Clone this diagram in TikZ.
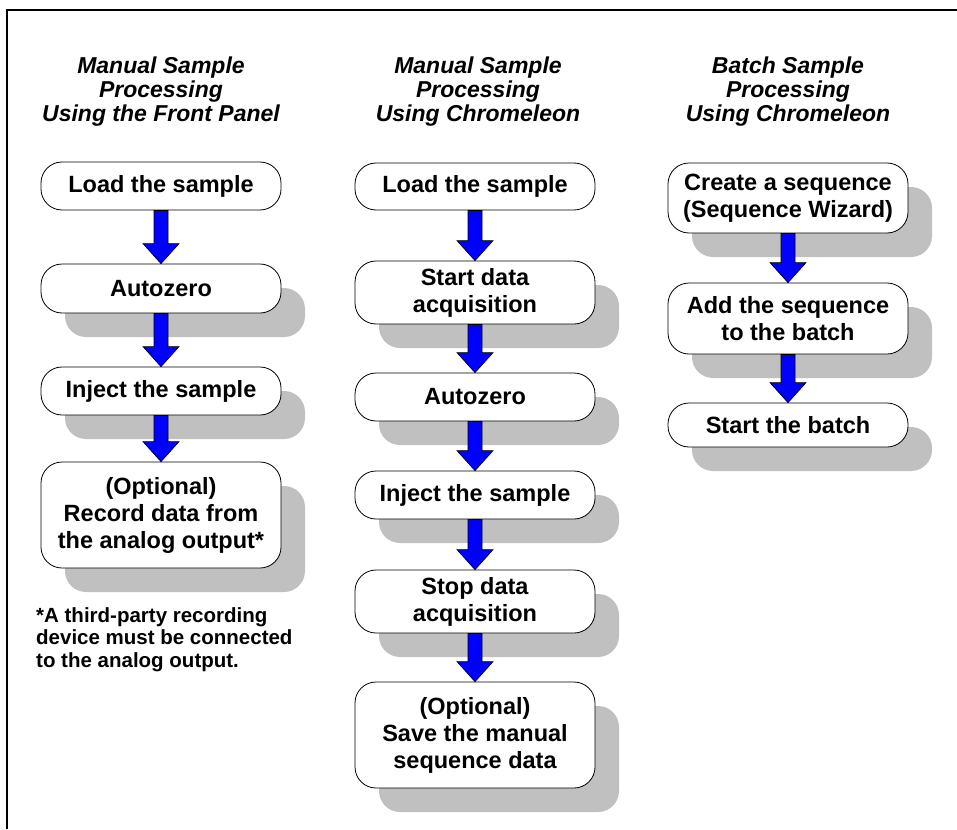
\documentclass[tikz,border=0pt]{standalone}
\usepackage{fontspec}
\setmainfont{Liberation Sans}
\usetikzlibrary{shadows,calc}
\definecolor{shadowgray}{RGB}{192,192,192}
\definecolor{arrowblue}{RGB}{0,0,255}
\tikzset{
 stepbox/.style={draw=black, line width=0.8pt, fill=white, rounded corners=21pt, minimum width=240pt, inner sep=0pt, align=center, font=\fontsize{23.5}{27}\selectfont\bfseries},
 shadowed/.style={general shadow={shadow xshift=24pt, shadow yshift=-24pt, fill=shadowgray, draw=none}},
 coltitle/.style={align=center, inner sep=0pt, anchor=north, font=\fontsize{23}{24}\selectfont\bfseries\itshape},
 footnote/.style={align=left, inner sep=0pt, anchor=north west, font=\fontsize{20.5}{22.5}\selectfont\bfseries},
 flowarrow/.style={fill=arrowblue, draw=black, line width=0.7pt, line join=miter},
 frameline/.style={line width=2.5pt},
}
\newcommand{\flowarr}[2]{\draw[flowarrow] ($(#1.south)+(-7,0)$) -- ($(#2.north)+(-7,-20)$) -- ($(#2.north)+(-18,-20)$) -- (#2.north) -- ($(#2.north)+(18,-20)$) -- ($(#2.north)+(7,-20)$) -- ($(#1.south)+(7,0)$) -- cycle;}
\begin{document}
\begin{tikzpicture}[x=1pt,y=-1pt]
\useasboundingbox (0,0) rectangle (957,829);
\draw[frameline] (957,10) -- (7,10) -- (7,829);

% titles
\node[coltitle] (t1) at (161,57) {Manual Sample\\Processing\\Using the Front Panel};
\node[coltitle] (t2) at (478,57) {Manual Sample\\Processing\\Using Chromeleon};
\node[coltitle] (t3) at (788,57) {Batch Sample\\Processing\\Using Chromeleon};

% column 1
\node[stepbox, minimum height=48pt] (a1) at (161,186) {Load the sample};
\node[stepbox, shadowed, minimum height=49pt] (a2) at (161,288.5) {Autozero};
\node[stepbox, shadowed, minimum height=48pt] (a3) at (161,391) {Inject the sample};
\node[stepbox, shadowed, minimum height=106pt] (a4) at (161,515) {(Optional)\\Record data from\\the analog output*};
\flowarr{a1}{a2}
\flowarr{a2}{a3}
\flowarr{a3}{a4}
\node[footnote] (fn) at (36,607) {*A third-party recording\\device must be connected\\to the analog output.};

% column 2
\node[stepbox, minimum height=47pt] (b1) at (475,186.5) {Load the sample};
\node[stepbox, shadowed, minimum height=63pt] (b2) at (475,292.5) {Start data\\acquisition};
\node[stepbox, shadowed, minimum height=48pt] (b3) at (475,397) {Autozero};
\node[stepbox, shadowed, minimum height=48pt] (b4) at (475,495) {Inject the sample};
\node[stepbox, shadowed, minimum height=63pt] (b5) at (475,601.5) {Stop data\\acquisition};
\node[stepbox, shadowed, minimum height=106pt] (b6) at (475,735) {(Optional)\\Save the manual\\sequence data};
\flowarr{b1}{b2}
\flowarr{b2}{b3}
\flowarr{b3}{b4}
\flowarr{b4}{b5}
\flowarr{b5}{b6}

% column 3
\node[stepbox, shadowed, minimum height=70pt] (c1) at (788,198) {Create a sequence\\(Sequence Wizard)};
\node[stepbox, shadowed, minimum height=71pt] (c2) at (788,318.5) {Add the sequence\\to the batch};
\node[stepbox, shadowed, minimum height=44pt] (c3) at (788,425) {Start the batch};
\flowarr{c1}{c2}
\flowarr{c2}{c3}
\end{tikzpicture}
\end{document}
